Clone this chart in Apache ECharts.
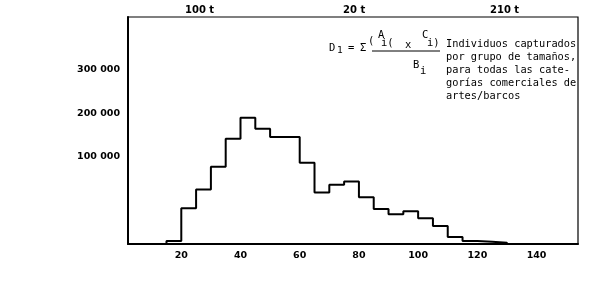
<!DOCTYPE html>
<html>
<head>
<meta charset="utf-8">
<script src="https://cdn.jsdelivr.net/npm/echarts@6/dist/echarts.min.js"></script>
<style>
html,body{margin:0;padding:0;background:#fff;}
#chart{width:597px;height:293px;}
</style>
</head>
<body>
<div id="chart"></div>
<script>
// Size classes (lower bound of each 5-unit class)
const binStarts = [15,20,25,30,35,40,45,50,55,60,65,70,75,80,85,90,95,100,105,110,115,120,125];
// Values read against the printed y-axis labels
const counts = [-93000,-18000,25000,77000,141000,189000,164000,145000,145000,86000,18000,36000,43000,7000,-20000,-32000,-25000,-41000,-59000,-84000,-93000,-95000,-97000];
const binWidth = 5;
const axisFloor = -100000;
const xTickLabels = [20,40,60,80,100,120,140];
const yTickLabels = {100000:'100 000',200000:'200 000',300000:'300 000'};
const topLabels = ['100 t','20 t','210 t'];
const noteLines = ['Individuos capturados','por grupo de tamaños,','para todas las cate-','gorías comerciales de','artes/barcos'];

const stepData = [[binStarts[0], axisFloor]];
binStarts.forEach((x,i)=>stepData.push([x, counts[i]]));
stepData.push([binStarts[binStarts.length-1] + binWidth, axisFloor]);

const mono = 'DejaVu Sans Mono';
const sans = 'DejaVu Sans';
const t = (x,y,text,size,weight,font) => ({type:'text', left:x, top:y, style:{text:text, fill:'#000', font:(weight||'normal')+' '+(size||10)+'px "'+(font||mono)+'"'}});

const graphics = [
  t(185,5,topLabels[0],10,'bold',sans),
  t(343,5,topLabels[1],10,'bold',sans),
  t(490,5,topLabels[2],10,'bold',sans),
  t(329,43,'D',10.5),
  t(337,46,'1',9.5),
  t(348,43,'=',10.5),
  t(360,43,'Σ',10.5),
  t(368,36,'(',10.5),
  t(378,30,'A',10.5),
  t(381,38,'i(',10.5),
  t(405,40,'x',10.5),
  t(422,30,'C',10.5),
  t(427,38,'i)',10.5),
  t(413,60,'B',10.5),
  t(420,66,'i',10.5),
  {type:'line', shape:{x1:372,y1:51,x2:440,y2:51}, style:{stroke:'#000', lineWidth:1}}
];
noteLines.forEach((s,i)=>graphics.push(t(446,39+i*13,s,10.3)));

const chart = echarts.init(document.getElementById('chart'));
chart.setOption({
  animation:false,
  backgroundColor:'#fff',
  grid:{left:128,right:19,top:17,bottom:49,show:true,borderColor:'#000',borderWidth:1.2,backgroundColor:'transparent'},
  xAxis:{
    type:'value', min:2, max:154, interval:2,
    axisLine:{show:true,onZero:false,lineStyle:{color:'#000',width:2}},
    axisTick:{show:false},
    splitLine:{show:false},
    axisLabel:{color:'#000',fontFamily:sans,fontWeight:'bold',fontSize:9.5,margin:7,
      formatter:v=>xTickLabels.indexOf(v)>=0?String(v):''}
  },
  yAxis:{
    type:'value', min:axisFloor, max:420000, interval:100000,
    axisLine:{show:true,onZero:false,lineStyle:{color:'#000',width:2}},
    axisTick:{show:false},
    splitLine:{show:false},
    axisLabel:{color:'#000',fontFamily:sans,fontWeight:'bold',fontSize:9.5,margin:8,
      formatter:v=>yTickLabels[v]||''}
  },
  series:[{
    type:'line', step:'end', data:stepData, symbol:'none',
    lineStyle:{color:'#000',width:2}
  }],
  graphic:graphics
});
</script>
</body>
</html>
